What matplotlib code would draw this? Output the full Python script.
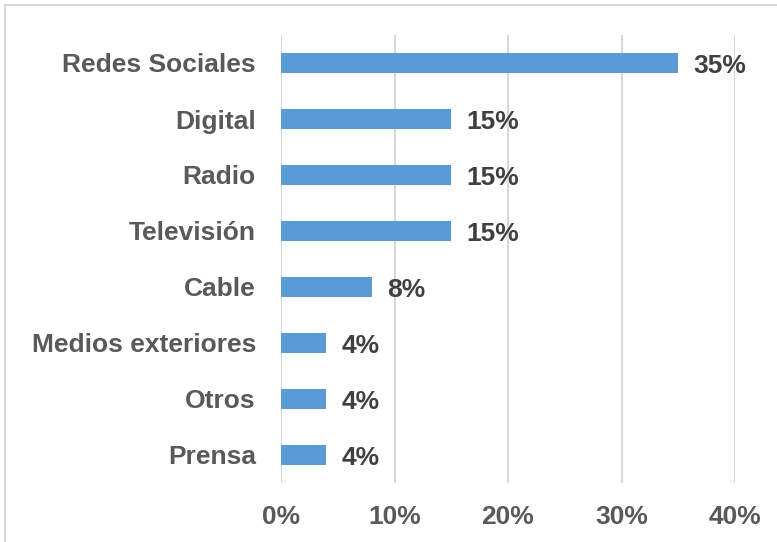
import matplotlib.pyplot as plt
from matplotlib.patches import Rectangle

categories = ['Redes Sociales', 'Digital', 'Radio', 'Televisión', 'Cable',
              'Medios exteriores', 'Otros', 'Prensa']
shares = [35, 15, 15, 15, 8, 4, 4, 4]
xticks = [0, 10, 20, 30, 40]

plt.rcParams['font.family'] = ['Liberation Sans', 'DejaVu Sans']
plt.rcParams['font.weight'] = 'bold'

fig = plt.figure(figsize=(7.77, 5.42), dpi=100)
ax = fig.add_axes([281 / 777, 1 - 483 / 542, 454 / 777, 448 / 542])

ypos = list(range(len(categories)))[::-1]
ax.barh(ypos, shares, height=0.36, color='#5B9BD5', zorder=3)
for y, v in zip(ypos, shares):
    ax.annotate(f'{v}%', (v, y), xytext=(11, -2.5), textcoords='offset points',
                va='center', ha='left', fontsize=19, fontweight='bold',
                color='#404040')

ax.set_xlim(0, 40)
ax.set_ylim(-0.5, len(categories) - 0.5)
ax.set_xticks(xticks)
ax.set_xticklabels([f'{t}%' for t in xticks])
ax.set_yticks(ypos)
ax.set_yticklabels(categories)
ax.tick_params(axis='both', length=0, labelsize=19, labelcolor='#595959')
ax.tick_params(axis='x', pad=16)
ax.tick_params(axis='y', pad=18)
for lab in ax.get_xticklabels() + ax.get_yticklabels():
    lab.set_fontweight('bold')

for s in ax.spines.values():
    s.set_visible(False)
ax.grid(axis='x', color='#D9D9D9', linewidth=1.5, zorder=0)

# outer chart frame
fig.patches.append(Rectangle((5 / 777, -0.1), 1.2, 1.1 - 5 / 542,
                             transform=fig.transFigure, fill=False,
                             edgecolor='#D9D9D9', linewidth=1.5))

fig.savefig('out.png', dpi=100)
